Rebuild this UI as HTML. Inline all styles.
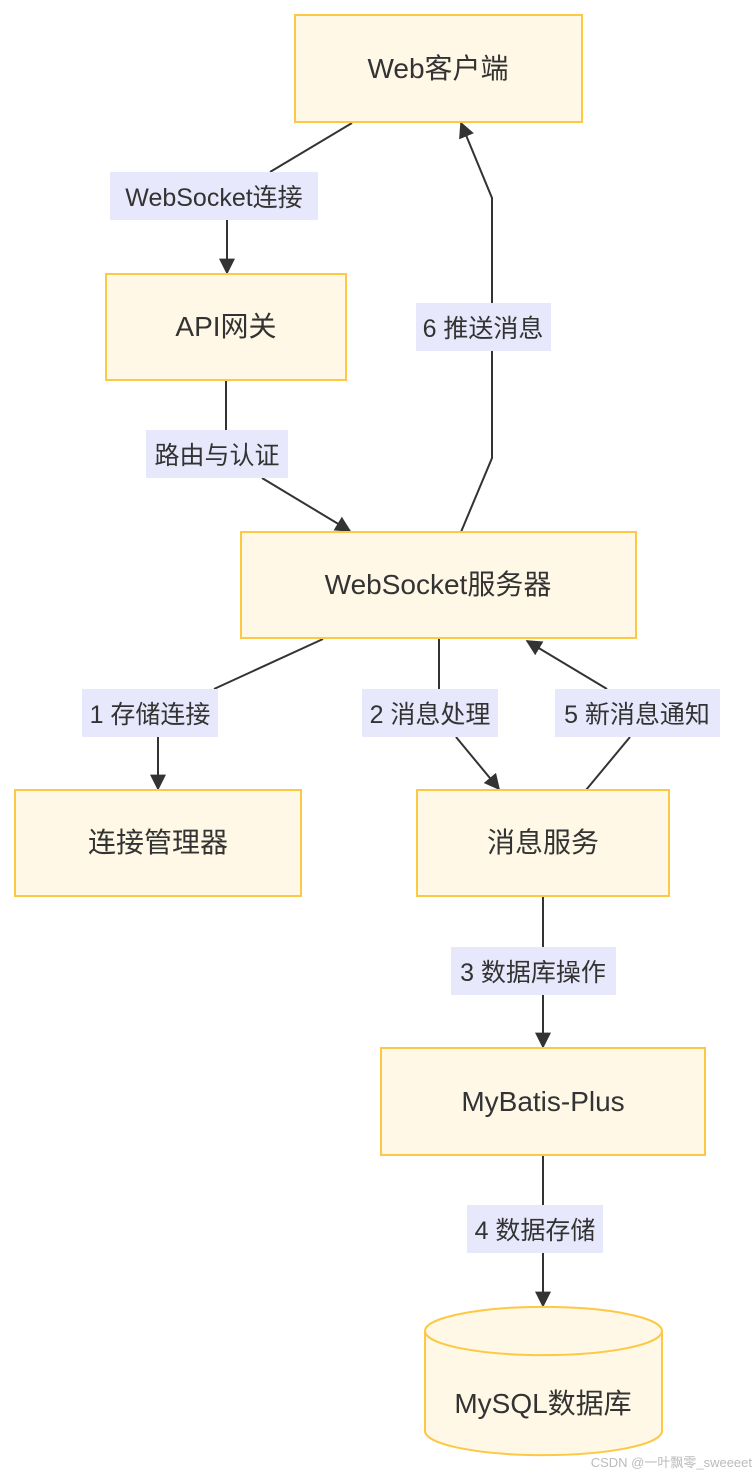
<!DOCTYPE html>
<html><head><meta charset="utf-8"><style>
html,body{margin:0;padding:0;background:#fff;}
svg{display:block;}
text{font-family:"Liberation Sans","Noto Sans CJK SC",sans-serif;fill:#333;}
.n{font-size:28px;}
.l{font-size:25px;}
</style></head><body>
<svg width="756" height="1474" viewBox="0 0 756 1474" xmlns="http://www.w3.org/2000/svg">
<defs><marker id="a" viewBox="0 0 10 10" refX="9" refY="5" markerWidth="8" markerHeight="8" markerUnits="userSpaceOnUse" orient="auto"><path d="M0,0L10,5L0,10z" fill="#333"/></marker>
<marker id="b" viewBox="0 0 10 10" refX="9" refY="5" markerWidth="16" markerHeight="16" markerUnits="userSpaceOnUse" orient="auto"><path d="M0,0L10,5L0,10z" fill="#333"/></marker></defs>
<g stroke="#333" stroke-width="2" fill="none">
<polyline points="352,123 270,172"/>
<line x1="227" y1="220" x2="227" y2="273" marker-end="url(#b)"/>
<line x1="226" y1="380" x2="226" y2="430"/>
<line x1="262" y1="478" x2="350" y2="531" marker-end="url(#b)"/>
<polyline points="461,532 492,458 492,198 461,123" marker-end="url(#b)"/>
<line x1="323" y1="639" x2="214" y2="689"/>
<line x1="158" y1="737" x2="158" y2="789" marker-end="url(#b)"/>
<line x1="439" y1="639" x2="439" y2="689"/>
<line x1="456" y1="737" x2="499" y2="789" marker-end="url(#b)"/>
<line x1="586" y1="790" x2="630" y2="737"/>
<line x1="607" y1="689" x2="527" y2="641" marker-end="url(#b)"/>
<line x1="543" y1="897" x2="543" y2="947"/>
<line x1="543" y1="995" x2="543" y2="1047" marker-end="url(#b)"/>
<line x1="543" y1="1156" x2="543" y2="1205"/>
<line x1="543" y1="1253" x2="543" y2="1306" marker-end="url(#b)"/>
</g>
<g fill="#fff8e6" stroke="#fdc843" stroke-width="2">
<rect x="295" y="15" width="287" height="107"/>
<rect x="106" y="274" width="240" height="106"/>
<rect x="241" y="532" width="395" height="106"/>
<rect x="15" y="790" width="286" height="106"/>
<rect x="417" y="790" width="252" height="106"/>
<rect x="381" y="1048" width="324" height="107"/>
<path d="M425,1331 A118,24 0 0 1 662,1331 L662,1431 A118,24 0 0 1 425,1431 Z"/>
<path d="M425,1331 A118,24 0 0 0 662,1331" fill="none"/>
</g>
<g class="n" text-anchor="middle">
<text x="438" y="78">Web客户端</text>
<text x="226" y="336">API网关</text>
<text x="438" y="594">WebSocket服务器</text>
<text x="158" y="852">连接管理器</text>
<text x="543" y="852">消息服务</text>
<text x="543" y="1111">MyBatis-Plus</text>
<text x="543" y="1413">MySQL数据库</text>
</g>
<g fill="#e8e8fc">
<rect x="110" y="172" width="208" height="48"/>
<rect x="146" y="430" width="142" height="48"/>
<rect x="416" y="303" width="135" height="48"/>
<rect x="82" y="689" width="136" height="48"/>
<rect x="362" y="689" width="136" height="48"/>
<rect x="555" y="689" width="165" height="48"/>
<rect x="451" y="947" width="165" height="48"/>
<rect x="467" y="1205" width="136" height="48"/>
</g>
<g class="l" text-anchor="middle">
<text x="214" y="206">WebSocket连接</text>
<text x="217" y="464">路由与认证</text>
<text x="483" y="337">6 推送消息</text>
<text x="150" y="723">1 存储连接</text>
<text x="430" y="723">2 消息处理</text>
<text x="637" y="723">5 新消息通知</text>
<text x="533" y="981">3 数据库操作</text>
<text x="535" y="1239">4 数据存储</text>
</g>
<text x="752" y="1467" text-anchor="end" style="font-size:13px;fill:#bbb">CSDN @一叶飘零_sweeeet</text>
</svg>
</body></html>
